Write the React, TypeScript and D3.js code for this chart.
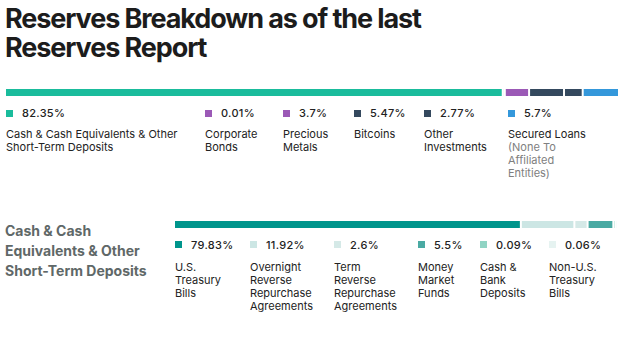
import React from "react";
import * as d3 from "d3";

const topCategories = [
  { label: ["Cash & Cash Equivalents & Other", "Short-Term Deposits"], note: [] as string[] },
  { label: ["Corporate", "Bonds"], note: [] as string[] },
  { label: ["Precious", "Metals"], note: [] as string[] },
  { label: ["Bitcoins"], note: [] as string[] },
  { label: ["Other", "Investments"], note: [] as string[] },
  { label: ["Secured Loans"], note: ["(None To", "Affiliated", "Entities)"] },
];
const topValues = [82.35, 0.01, 3.7, 5.47, 2.77, 5.7];
const topValueLabels = ["82.35%", "0.01%", "3.7%", "5.47%", "2.77%", "5.7%"];
const topColors = ["#1abc9c", "#9b59b6", "#9b59b6", "#34495e", "#34495e", "#3498db"];

const subTitle = ["Cash & Cash", "Equivalents & Other", "Short-Term Deposits"];
const subCategories = [
  ["U.S.", "Treasury", "Bills"],
  ["Overnight", "Reverse", "Repurchase", "Agreements"],
  ["Term", "Reverse", "Repurchase", "Agreements"],
  ["Money", "Market", "Funds"],
  ["Cash &", "Bank", "Deposits"],
  ["Non-U.S.", "Treasury", "Bills"],
];
const subValues = [79.83, 11.92, 2.6, 5.5, 0.09, 0.06];
const subValueLabels = ["79.83%", "11.92%", "2.6%", "5.5%", "0.09%", "0.06%"];
const subColors = ["#00958c", "#cce6e4", "#d5e9e7", "#4aaaa3", "#90d4c4", "#e6f3f1"];

// layout (not data)
const topLegendX = [6, 205, 283, 354, 424, 508];
const subLegendX = [175, 250, 334, 418, 480, 549];

const FONT = "Inter, 'Noto Sans', sans-serif";

function stack(values: number[], left: number, right: number, gap: number) {
  const avail = right - left - gap * (values.length - 1);
  const x = d3.scaleLinear().domain([0, d3.sum(values)]).range([0, avail]);
  let cum = 0;
  return values.map((v, i) => {
    const seg = { x: left + x(cum) + i * gap, w: x(v) };
    cum += v;
    return seg;
  });
}

export default function App() {
  const topSegs = stack(topValues, 6, 618, 2);
  const subSegs = stack(subValues, 175, 617, 2);
  return (
    <svg
      width={623}
      height={352}
      style={{ position: "absolute", left: 0, top: 0, background: "#fff" }}
      fontFamily={FONT}
    >
      <g fill="#1c1c1c" fontWeight={700} fontSize={27} letterSpacing={-1.1}>
        <text x={5} y={28}>Reserves Breakdown as of the last</text>
        <text x={5} y={57}>Reserves Report</text>
      </g>

      {topSegs.map((s, i) => (
        <rect key={i} x={s.x} y={89} width={Math.max(0, s.w)} height={7} fill={topColors[i]} />
      ))}

      {topCategories.map((c, i) => {
        const x0 = topLegendX[i];
        return (
          <g key={i}>
            <rect x={x0} y={110} width={7} height={7} fill={topColors[i]} />
            <text x={x0 + 16} y={117} fontSize={11} fontWeight={500} fill="#222" letterSpacing={0.3}>
              {topValueLabels[i]}
            </text>
            {c.label.map((l, j) => (
              <text key={j} x={x0} y={138 + j * 13} fontSize={11} fill="#222">
                {l}
              </text>
            ))}
            {c.note.map((l, j) => (
              <text key={"n" + j} x={x0} y={138 + (c.label.length + j) * 13} fontSize={11} fill="#808080">
                {l}
              </text>
            ))}
          </g>
        );
      })}

      <g fill="#5f6868" fontWeight={700} fontSize={14}>
        {subTitle.map((l, j) => (
          <text key={j} x={5} y={236 + j * 20}>
            {l}
          </text>
        ))}
      </g>

      {subSegs.map((s, i) => (
        <rect key={i} x={s.x} y={221} width={Math.max(0, s.w)} height={7} fill={subColors[i]} />
      ))}

      {subCategories.map((c, i) => {
        const x0 = subLegendX[i];
        return (
          <g key={i}>
            <rect x={x0} y={241} width={7} height={7} fill={subColors[i]} />
            <text x={x0 + 16} y={249} fontSize={11} fontWeight={500} fill="#222" letterSpacing={0.3}>
              {subValueLabels[i]}
            </text>
            {c.map((l, j) => (
              <text key={j} x={x0} y={271 + j * 13} fontSize={11} fill="#222">
                {l}
              </text>
            ))}
          </g>
        );
      })}
    </svg>
  );
}
